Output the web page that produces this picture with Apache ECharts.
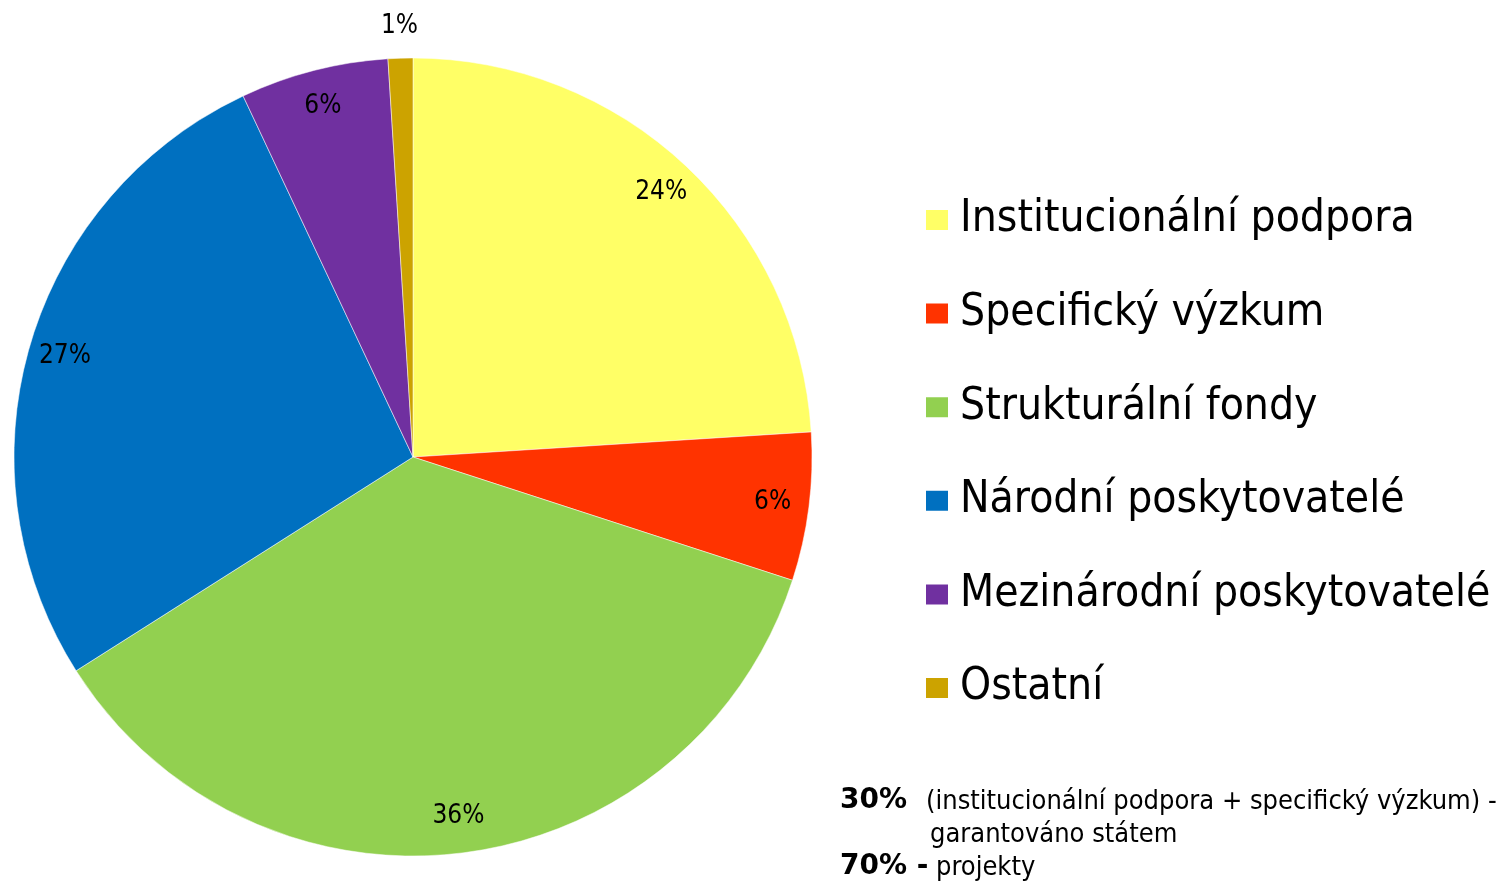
<!DOCTYPE html>
<html>
<head>
<meta charset="utf-8">
<script src="https://cdn.jsdelivr.net/npm/echarts@6/dist/echarts.min.js"></script>
<style>
html,body{margin:0;padding:0;background:#fff;}
#chart{width:1498px;height:886px;}
</style>
</head>
<body>
<div id="chart"></div>
<script>
const categories = ['Institucionální podpora','Specifický výzkum','Strukturální fondy','Národní poskytovatelé','Mezinárodní poskytovatelé','Ostatní'];
const values = [24, 6, 36, 27, 6, 1];
const colors = ['#FFFF66','#FF3300','#92D050','#0070C0','#7030A0','#CCA300'];
const noteLines = [
  ['30%', '(institucionální podpora + specifický výzkum) -'],
  ['', 'garantováno státem'],
  ['70% -', 'projekty']
];

const FONT = '"DejaVu Sans Condensed", "DejaVu Sans", sans-serif';
const BOLDFONT = '"DejaVu Sans", sans-serif';
const data = categories.map((c, i) => ({ name: c, value: values[i], itemStyle: { color: colors[i] } }));
const lastIdx = values.length - 1;
const pctFmt = p => Math.round(p.percent) + '%';

const chart = echarts.init(document.getElementById('chart'), null, { renderer: 'canvas' });
chart.setOption({
  backgroundColor: '#fff',
  animation: false,
  legend: {
    orient: 'vertical',
    left: 924,
    top: 198,
    padding: 0,
    itemWidth: 24,
    itemHeight: 22,
    itemGap: 49.6,
    icon: 'rect',
    selectedMode: false,
    data: categories,
    textStyle: { fontFamily: FONT, fontSize: 44, lineHeight: 44, color: '#000', padding: [0, 0, 0, 6] }
  },
  series: [
    {
      type: 'pie', center: [413, 457], radius: [0, 399], startAngle: 90, clockwise: true,
      data: data, label: { show: false }, labelLine: { show: false },
      itemStyle: { borderColor: '#fff', borderWidth: 0.5 },
      emphasis: { disabled: true }
    },
    {
      type: 'pie', center: [413, 457], radius: [320, 399], startAngle: 90, clockwise: true, silent: true,
      legendHoverLink: false,
      data: categories.map((c, i) => ({ name: c + ' ', value: values[i] })),
      itemStyle: { color: 'rgba(0,0,0,0)' },
      label: { show: true, position: 'inside', fontFamily: FONT, fontSize: 26, color: '#000',
        formatter: p => p.dataIndex === lastIdx ? '' : pctFmt(p) },
      labelLine: { show: false }, emphasis: { disabled: true }
    },
    {
      type: 'pie', center: [413, 457], radius: [398, 458], startAngle: 90, clockwise: true, silent: true,
      legendHoverLink: false,
      data: categories.map((c, i) => ({ name: c + '  ', value: values[i] })),
      itemStyle: { color: 'rgba(0,0,0,0)' },
      label: { show: true, position: 'inside', fontFamily: FONT, fontSize: 26, color: '#000',
        formatter: p => p.dataIndex === lastIdx ? pctFmt(p) : '' },
      labelLine: { show: false }, emphasis: { disabled: true }
    }
  ],
  graphic: [
    { type: 'text', left: 840, top: 787, style: { text: noteLines[0][0], font: 'bold 28px ' + BOLDFONT, fill: '#000' } },
    { type: 'text', left: 926, top: 788, style: { text: noteLines[0][1], font: '27px ' + FONT, fill: '#000' } },
    { type: 'text', left: 930, top: 821, style: { text: noteLines[1][1], font: '27px ' + FONT, fill: '#000' } },
    { type: 'text', left: 840, top: 853, style: { text: noteLines[2][0], font: 'bold 28px ' + BOLDFONT, fill: '#000' } },
    { type: 'text', left: 936, top: 854, style: { text: noteLines[2][1], font: '27px ' + FONT, fill: '#000' } }
  ]
});
</script>
</body>
</html>
